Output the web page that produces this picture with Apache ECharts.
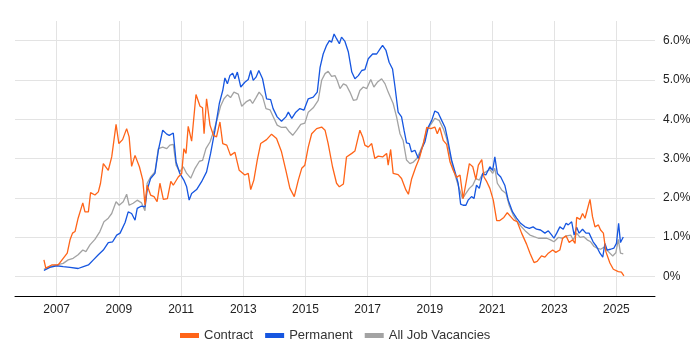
<!DOCTYPE html>
<html>
<head>
<meta charset="utf-8">
<script src="https://cdn.jsdelivr.net/npm/echarts@6/dist/echarts.min.js"></script>
<style>
  html, body { margin: 0; padding: 0; background: #fff; }
  #chart { width: 700px; height: 350px; }
</style>
</head>
<body>
<div id="chart"></div>
<script>
// 年份刻度与百分比刻度
var yearTicks = [2007, 2009, 2011, 2013, 2015, 2017, 2019, 2021, 2023, 2025];
var pctTicks = [0, 1, 2, 3, 4, 5, 6];
var seriesNames = ['Contract', 'Permanent', 'All Job Vacancies'];

// [年份, 占比%]
var contractData = [
  [2006.59,0.42],[2006.65,0.21],[2006.84,0.29],[2007.05,0.29],[2007.21,0.46],[2007.34,0.59],[2007.43,0.93],
  [2007.51,1.10],[2007.59,1.14],[2007.69,1.48],[2007.84,1.87],[2007.91,1.64],[2008.02,1.64],[2008.09,2.13],
  [2008.23,2.07],[2008.34,2.15],[2008.41,2.37],[2008.50,2.87],[2008.66,2.70],[2008.77,3.04],[2008.91,3.87],
  [2009.00,3.38],[2009.12,3.48],[2009.25,3.76],[2009.33,3.55],[2009.41,2.80],[2009.52,3.08],[2009.66,2.79],
  [2009.77,2.45],[2009.84,1.81],[2009.91,2.32],[2010.02,2.07],[2010.13,2.03],[2010.23,1.90],[2010.32,2.37],
  [2010.43,1.96],[2010.56,1.98],[2010.67,2.42],[2010.75,2.32],[2010.91,2.53],[2011.02,2.62],[2011.09,3.25],
  [2011.16,3.13],[2011.23,3.82],[2011.34,3.44],[2011.48,4.63],[2011.61,4.33],[2011.69,4.29],[2011.74,3.63],
  [2011.82,4.52],[2011.93,3.85],[2012.04,3.59],[2012.14,3.55],[2012.25,3.93],[2012.34,3.38],[2012.47,3.34],
  [2012.59,3.08],[2012.73,3.16],[2012.87,2.70],[2013.05,2.58],[2013.16,2.62],[2013.24,2.21],[2013.34,2.45],
  [2013.45,2.96],[2013.56,3.38],[2013.75,3.48],[2013.91,3.62],[2014.07,3.51],[2014.23,3.17],[2014.37,2.70],
  [2014.50,2.24],[2014.64,2.03],[2014.77,2.45],[2014.88,2.75],[2014.98,2.83],[2015.09,3.29],[2015.20,3.63],
  [2015.36,3.76],[2015.52,3.80],[2015.63,3.72],[2015.73,3.38],[2015.87,2.79],[2016.00,2.37],[2016.09,2.28],
  [2016.22,2.35],[2016.32,3.04],[2016.49,3.13],[2016.59,3.19],[2016.75,3.72],[2016.84,3.55],[2016.91,3.34],
  [2017.02,3.29],[2017.13,3.38],[2017.23,3.00],[2017.34,3.06],[2017.48,3.04],[2017.61,3.13],[2017.66,2.83],
  [2017.74,3.23],[2017.82,2.62],[2017.98,2.59],[2018.09,2.49],[2018.14,2.52],[2018.23,2.20],[2018.31,2.09],
  [2018.41,2.47],[2018.55,2.79],[2018.66,3.00],[2018.79,3.38],[2018.90,3.79],[2019.03,3.76],[2019.16,3.80],
  [2019.24,3.63],[2019.32,3.79],[2019.43,3.46],[2019.54,3.36],[2019.65,2.91],[2019.75,2.70],[2019.86,2.52],
  [2019.97,2.58],[2020.07,1.98],[2020.16,2.37],[2020.27,2.87],[2020.38,2.79],[2020.48,2.47],[2020.56,2.83],
  [2020.67,2.97],[2020.74,2.53],[2020.83,2.41],[2020.93,2.24],[2021.04,1.94],[2021.15,1.42],[2021.25,1.42],
  [2021.38,1.50],[2021.49,1.62],[2021.60,1.52],[2021.70,1.43],[2021.81,1.39],[2021.95,1.10],[2022.11,0.82],
  [2022.22,0.59],[2022.35,0.35],[2022.45,0.38],[2022.59,0.52],[2022.70,0.49],[2022.81,0.59],[2022.95,0.67],
  [2023.05,0.61],[2023.18,0.67],[2023.27,0.97],[2023.38,1.03],[2023.48,0.86],[2023.59,0.93],[2023.67,0.84],
  [2023.72,1.50],[2023.83,1.45],[2023.91,1.60],[2023.99,1.48],[2024.06,1.69],[2024.15,1.96],[2024.23,1.52],
  [2024.31,1.26],[2024.42,1.31],[2024.49,1.18],[2024.58,1.10],[2024.66,0.63],[2024.79,0.34],[2024.90,0.18],
  [2025.06,0.12],[2025.16,0.11],[2025.24,0.01]
];

var permanentData = [
  [2006.59,0.15],[2006.78,0.23],[2007.00,0.27],[2007.21,0.25],[2007.43,0.23],[2007.69,0.20],[2007.86,0.25],
  [2008.02,0.29],[2008.18,0.42],[2008.34,0.55],[2008.50,0.67],[2008.66,0.86],[2008.80,0.88],[2008.93,1.05],
  [2009.04,1.10],[2009.20,1.37],[2009.30,1.64],[2009.41,1.60],[2009.52,1.43],[2009.59,1.73],[2009.73,1.79],
  [2009.84,1.77],[2009.91,2.20],[2010.02,2.49],[2010.16,2.62],[2010.27,3.21],[2010.41,3.72],[2010.54,3.62],
  [2010.62,3.59],[2010.75,3.65],[2010.84,2.91],[2010.96,2.62],[2011.09,2.45],[2011.18,2.28],[2011.26,1.94],
  [2011.34,2.11],[2011.50,2.21],[2011.66,2.41],[2011.82,2.66],[2011.95,3.13],[2012.09,3.72],[2012.23,4.40],
  [2012.34,4.73],[2012.41,5.05],[2012.49,4.90],[2012.57,5.11],[2012.66,5.17],[2012.73,5.03],[2012.81,5.20],
  [2012.92,4.82],[2013.05,4.94],[2013.16,5.01],[2013.24,5.24],[2013.32,4.99],[2013.41,5.07],[2013.50,5.24],
  [2013.62,5.03],[2013.75,4.52],[2013.88,4.50],[2013.96,4.27],[2014.09,4.06],[2014.23,3.95],[2014.37,4.06],
  [2014.45,4.18],[2014.56,4.02],[2014.69,4.18],[2014.82,4.27],[2014.95,4.23],[2015.09,4.52],[2015.25,4.56],
  [2015.38,4.69],[2015.47,5.32],[2015.57,5.66],[2015.68,5.88],[2015.77,6.00],[2015.84,5.96],[2015.92,6.17],
  [2016.00,6.05],[2016.09,5.92],[2016.16,6.09],[2016.27,5.98],[2016.38,5.71],[2016.49,5.20],[2016.59,5.03],
  [2016.70,5.11],[2016.81,5.24],[2016.91,5.26],[2017.02,5.54],[2017.16,5.66],[2017.29,5.66],[2017.40,5.79],
  [2017.48,5.88],[2017.59,5.75],[2017.69,5.45],[2017.80,5.28],[2017.88,4.82],[2017.98,4.18],[2018.09,4.06],
  [2018.17,3.72],[2018.25,3.40],[2018.34,3.38],[2018.41,3.17],[2018.52,3.21],[2018.63,3.00],[2018.74,3.25],
  [2018.84,3.42],[2018.95,3.80],[2019.06,3.97],[2019.16,4.21],[2019.27,4.16],[2019.38,3.97],[2019.49,3.79],
  [2019.59,3.42],[2019.70,2.96],[2019.81,2.66],[2019.91,2.37],[2019.99,1.84],[2020.07,1.81],[2020.16,1.81],
  [2020.23,1.94],[2020.34,2.03],[2020.42,1.98],[2020.50,2.32],[2020.59,2.24],[2020.70,2.62],[2020.80,2.58],
  [2020.93,2.79],[2021.02,2.70],[2021.09,3.04],[2021.17,2.62],[2021.28,2.53],[2021.41,2.32],[2021.52,1.94],
  [2021.66,1.64],[2021.79,1.48],[2021.92,1.35],[2022.06,1.26],[2022.20,1.22],[2022.32,1.26],[2022.43,1.20],
  [2022.56,1.18],[2022.70,1.10],[2022.81,1.16],[2022.92,1.05],[2022.99,0.97],[2023.08,1.10],[2023.18,1.26],
  [2023.29,1.20],[2023.38,1.35],[2023.45,1.31],[2023.56,1.39],[2023.64,1.05],[2023.72,1.25],[2023.80,1.10],
  [2023.91,1.20],[2024.02,1.10],[2024.12,1.10],[2024.25,0.88],[2024.36,0.76],[2024.47,0.59],[2024.56,0.49],
  [2024.63,0.84],[2024.70,0.67],[2024.81,0.69],[2024.92,0.72],[2025.00,0.84],[2025.07,1.35],[2025.13,0.86],
  [2025.22,1.00]
];

var allJobsData = [
  [2006.59,0.18],[2006.78,0.25],[2007.00,0.29],[2007.21,0.33],[2007.37,0.42],[2007.53,0.46],[2007.69,0.55],
  [2007.84,0.67],[2007.94,0.63],[2008.07,0.80],[2008.23,0.94],[2008.39,1.14],[2008.52,1.39],[2008.66,1.48],
  [2008.77,1.60],[2008.91,1.90],[2009.01,1.81],[2009.14,1.90],[2009.25,2.09],[2009.33,1.81],[2009.46,1.86],
  [2009.59,1.94],[2009.73,1.87],[2009.84,1.67],[2009.91,2.37],[2010.02,2.53],[2010.16,2.66],[2010.27,3.25],
  [2010.41,3.29],[2010.54,3.25],[2010.64,3.34],[2010.75,3.36],[2010.84,2.83],[2010.96,2.66],[2011.07,2.79],
  [2011.18,2.62],[2011.31,2.50],[2011.45,2.75],[2011.59,2.93],[2011.69,2.95],[2011.80,3.25],[2011.93,3.42],
  [2012.06,3.72],[2012.16,4.00],[2012.27,4.33],[2012.38,4.52],[2012.49,4.62],[2012.59,4.55],[2012.70,4.69],
  [2012.84,4.64],[2012.95,4.33],[2013.09,4.44],[2013.22,4.50],[2013.30,4.40],[2013.41,4.55],[2013.51,4.69],
  [2013.62,4.58],[2013.73,4.27],[2013.86,4.24],[2013.99,4.02],[2014.09,3.85],[2014.23,3.79],[2014.37,3.80],
  [2014.48,3.68],[2014.59,3.59],[2014.72,3.72],[2014.85,3.87],[2014.98,3.90],[2015.09,4.18],[2015.25,4.29],
  [2015.41,4.48],[2015.52,4.99],[2015.63,5.16],[2015.73,5.22],[2015.84,5.09],[2015.95,5.11],[2016.02,4.99],
  [2016.11,4.78],[2016.22,4.90],[2016.32,4.86],[2016.43,4.69],[2016.54,4.48],[2016.65,4.50],[2016.75,4.73],
  [2016.86,4.82],[2016.97,4.78],[2017.10,5.01],[2017.20,4.82],[2017.31,4.94],[2017.45,5.03],[2017.56,4.90],
  [2017.66,4.69],[2017.72,4.73],[2017.82,4.40],[2017.93,4.06],[2018.04,3.63],[2018.14,3.46],[2018.25,2.96],
  [2018.36,2.87],[2018.47,2.91],[2018.58,3.00],[2018.68,3.17],[2018.79,3.38],[2018.90,3.72],[2019.06,3.90],
  [2019.16,4.02],[2019.30,3.97],[2019.43,3.76],[2019.54,3.51],[2019.65,3.08],[2019.78,2.66],[2019.91,2.32],
  [2020.05,1.98],[2020.16,2.11],[2020.27,2.24],[2020.38,2.32],[2020.48,2.49],[2020.59,2.45],[2020.70,2.62],
  [2020.80,2.66],[2020.93,2.72],[2021.02,2.62],[2021.09,2.75],[2021.17,2.37],[2021.31,2.20],[2021.45,2.11],
  [2021.55,1.81],[2021.68,1.56],[2021.81,1.39],[2021.95,1.26],[2022.09,1.14],[2022.22,1.05],[2022.35,1.01],
  [2022.49,0.97],[2022.63,0.97],[2022.76,0.97],[2022.88,0.93],[2022.99,0.88],[2023.13,0.99],[2023.27,0.97],
  [2023.40,1.03],[2023.53,1.05],[2023.61,0.93],[2023.72,1.10],[2023.83,0.99],[2023.95,1.01],[2024.06,0.93],
  [2024.17,0.88],[2024.28,0.76],[2024.38,0.72],[2024.49,0.69],[2024.60,0.74],[2024.74,0.63],[2024.88,0.52],
  [2024.98,0.60],[2025.06,0.94],[2025.13,0.59],[2025.22,0.57]
];

var colors = ['#ff6418', '#1656e0', '#a3a3a3'];

document.addEventListener("DOMContentLoaded", function () {
  var chart = echarts.init(document.getElementById('chart'));
  var font = 'Liberation Sans, Arial, sans-serif';

  function lineSeries(name, data, color, z) {
    return {
      name: name,
      type: 'line',
      data: data,
      showSymbol: false,
      symbol: 'none',
      clip: false,
      z: z,
      lineStyle: { color: color, width: 1.3 },
      itemStyle: { color: color }
    };
  }

  var option = {
    animation: false,
    grid: { left: 15, right: 45, top: 21, bottom: 54 },
    legend: {
      bottom: 3,
      left: 175, // 图例居中于绘图区
      icon: 'rect',
      itemWidth: 19,
      itemHeight: 5,
      itemGap: 12,
      textStyle: { color: '#333', fontSize: 13, fontFamily: font },
      data: seriesNames
    },
    xAxis: {
      type: 'value',
      min: 2005.66,
      max: 2026.24,
      axisLine: { show: true, onZero: false, lineStyle: { color: '#000', width: 1 } },
      axisTick: { show: false, customValues: yearTicks },
      axisLabel: {
        customValues: yearTicks,
        color: '#222',
        fontSize: 12,
        fontFamily: font,
        margin: 8,
        formatter: function (v) { return String(v); }
      },
      splitLine: { show: true, lineStyle: { color: '#e3e3e3' } }
    },
    yAxis: {
      type: 'value',
      position: 'right',
      min: -0.5,
      max: 6.5,
      axisLine: { show: false },
      axisTick: { show: false, customValues: pctTicks },
      axisLabel: {
        customValues: pctTicks,
        color: '#222',
        fontSize: 12,
        fontFamily: font,
        margin: 8,
        formatter: function (v) { return v === 0 ? '0%' : v.toFixed(1) + '%'; }
      },
      splitLine: { show: true, lineStyle: { color: '#e3e3e3' } }
    },
    series: [
      lineSeries(seriesNames[2], allJobsData, colors[2], 1),
      lineSeries(seriesNames[1], permanentData, colors[1], 2),
      lineSeries(seriesNames[0], contractData, colors[0], 3)
    ]
  };

  chart.setOption(option);
});
</script>
</body>
</html>
